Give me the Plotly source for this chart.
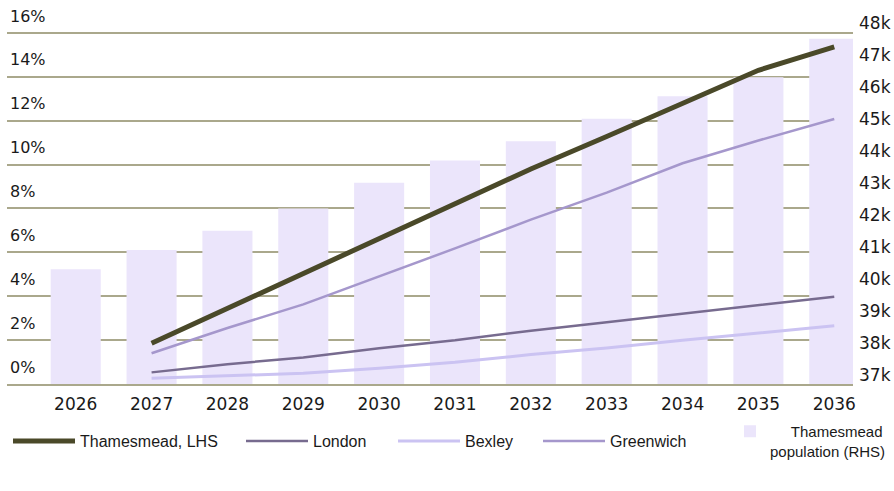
import plotly.graph_objects as go

years = ["2026", "2027", "2028", "2029", "2030", "2031", "2032", "2033", "2034", "2035", "2036"]
line_years = years[1:]

population_k = [40.3, 40.9, 41.5, 42.2, 43.0, 43.7, 44.3, 45.0, 45.7, 46.3, 47.5]
thamesmead = [1.86, 3.45, 5.0, 6.58, 8.23, 9.8, 11.28, 12.82, 14.3, 15.37]
london = [0.53, 0.90, 1.21, 1.63, 1.99, 2.43, 2.81, 3.20, 3.6, 3.98]
bexley = [0.26, 0.38, 0.49, 0.72, 0.99, 1.34, 1.64, 1.99, 2.34, 2.66]
greenwich = [1.40, 2.55, 3.63, 4.90, 6.18, 7.49, 8.72, 10.06, 11.1, 12.08]

pct_ticks = [0, 2, 4, 6, 8, 10, 12, 14, 16]
pct_labels = ["0%", "2%", "4%", "6%", "8%", "10%", "12%", "14%", "16%"]
pop_ticks = [37, 38, 39, 40, 41, 42, 43, 44, 45, 46, 47, 48]
pop_labels = ["37k", "38k", "39k", "40k", "41k", "42k", "43k", "44k", "45k", "46k", "47k", "48k"]

GRID = "#aaa88c"
TXT = "#1a1a1a"
LEG_FONT = dict(family="Liberation Sans, Arial, sans-serif", size=16, color=TXT)
NB = "\u00a0"

fig = go.Figure()
fig.add_trace(go.Bar(x=years, y=population_k, name=NB * 5 + "Thamesmead<br>population (RHS)",
                     marker=dict(color="#ebe5fb", line=dict(width=0)),
                     yaxis="y", legend="legend5"))
fig.add_trace(go.Scatter(x=line_years, y=thamesmead, name="Thamesmead, LHS", mode="lines",
                         line=dict(color="#4a4929", width=5), yaxis="y2", legend="legend"))
fig.add_trace(go.Scatter(x=line_years, y=london, name="London", mode="lines",
                         line=dict(color="#776b8f", width=2.5), yaxis="y2", legend="legend2"))
fig.add_trace(go.Scatter(x=line_years, y=bexley, name="Bexley", mode="lines",
                         line=dict(color="#cbc3f2", width=3), yaxis="y2", legend="legend3"))
fig.add_trace(go.Scatter(x=line_years, y=greenwich, name="Greenwich", mode="lines",
                         line=dict(color="#a597cc", width=2.5), yaxis="y2", legend="legend4"))

W, H = 894, 491
ML, MR, MT, MB = 7, 41, 5, 107


def leg(X, Y, **kw):
    d = dict(x=X / W, y=1 - Y / H, xref="container", yref="container",
             xanchor="left", yanchor="middle", orientation="h",
             font=LEG_FONT, bgcolor="rgba(0,0,0,0)", itemwidth=62, tracegroupgap=0)
    d.update(kw)
    return d


fig.update_layout(
    width=W, height=H,
    margin=dict(l=ML, r=MR, t=MT, b=MB, autoexpand=False),
    plot_bgcolor="white", paper_bgcolor="white",
    bargap=0.34,
    showlegend=True,
    xaxis=dict(type="category", range=[-0.906, 10.247], showgrid=False, automargin=False,
               showline=True, linecolor=GRID, linewidth=2, ticks="", ticklabelstandoff=4,
               tickfont=dict(family="DejaVu Sans, sans-serif", size=17, color=TXT)),
    yaxis=dict(side="right", range=[36.719, 48.552], tickvals=pop_ticks, ticktext=pop_labels,
               showgrid=False, zeroline=False, ticks="", automargin=False, ticklabelstandoff=5,
               tickfont=dict(family="DejaVu Sans, sans-serif", size=17, color=TXT)),
    yaxis2=dict(side="left", overlaying="y", range=[0, 17.274], tickvals=pct_ticks, ticktext=pct_labels,
                showgrid=True, gridcolor=GRID, gridwidth=2, zeroline=False, ticks="", automargin=False,
                ticklabelposition="inside", ticklabelshift=-17,
                tickfont=dict(family="DejaVu Sans, sans-serif", size=16, color=TXT)),
    legend=leg(8, 441),
    legend2=leg(241, 441),
    legend3=leg(393, 441),
    legend4=leg(538, 441),
    legend5=leg(730, 441, valign="top", itemwidth=30,
                font=dict(family="Liberation Sans, Arial, sans-serif", size=15, color=TXT)),
)

fig.write_html("out.html", config={"displayModeBar": False},
               post_script="document.body.style.margin='0';document.body.style.padding='0';")
